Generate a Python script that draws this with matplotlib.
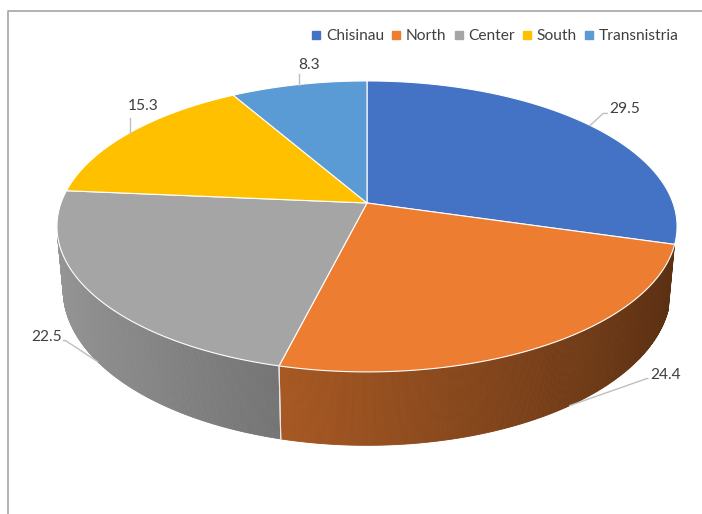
import numpy as np
import matplotlib.pyplot as plt
from matplotlib.patches import Polygon
from matplotlib.lines import Line2D
from matplotlib.colors import to_rgb

plt.rcParams['font.family'] = ['Lato', 'DejaVu Sans']

regions = ['Chisinau', 'North', 'Center', 'South', 'Transnistria']
shares = [29.5, 24.4, 22.5, 15.3, 8.3]
colors = ['#4472C4', '#ED7D31', '#A5A5A5', '#FFC000', '#5B9BD5']

# projection of the tilted disc, in pixels of the 702x514 image
CX, CY = 367, 203      # pie centre on the top face
RX, RY = 306, 141.7
K = 0.161              # perspective strength
DEPTH = 61.6           # thickness of the pie
SHRINK = 0.98          # bottom rim is a little narrower (perspective)
WALL_FROM, WALL_TO = 106.5, 258.0   # visible part of the outer wall, degrees

# label placement (offsets from anchor, pixels), leader elbow, anchor fraction in slice
label_off = [(19, -16), (80, -31), (-36, -25), (-2, -27), (0, -20)]
elbow_off = [(13, -12), (77, -27), (-32, -21), (0, -15), (0, -11)]
anchor_frac = [0.5, 0.43, 0.5, 0.5, 0.5]
anchor_side = ['top', 'bottom', 'bottom', 'top', 'top']
label_ha = ['left', 'left', 'right', 'left', 'left']


def top_pt(theta):
    # theta in degrees, clockwise from 12 o'clock
    t = np.radians(theta)
    u, v = np.sin(t), np.cos(t)
    d = 1 + K * v
    return CX + RX * u / d, CY - RY * v / d


def bottom_pt(theta):
    x, y = top_pt(theta)
    d = 1 + K * np.cos(np.radians(theta))
    return CX + (x - CX) * SHRINK, y + DEPTH / d


def shade(c, theta):
    f = 0.64 - 0.27 * np.sin(np.radians(theta))
    r, g, b = to_rgb(c)
    return (r * f, g * f, b * f)


fig = plt.figure(figsize=(7.02, 5.14), dpi=100)
ax = fig.add_axes([0, 0, 1, 1])
ax.set_xlim(0, 702)
ax.set_ylim(514, 0)
ax.axis('off')

# chart frame
ax.plot([7.5, 7.5, 702], [514, 10.5, 10.5], color='#A6A6A6', lw=1.2)

total = sum(shares)
edges = np.concatenate([[0], np.cumsum(shares)]) / total * 360

# front side walls, drawn as thin shaded strips
for i in range(len(shares)):
    a0 = max(edges[i], WALL_FROM)
    a1 = min(edges[i + 1], WALL_TO)
    if a1 <= a0:
        continue
    ts = np.linspace(a0, a1, int((a1 - a0) * 3) + 2)
    for t0, t1 in zip(ts[:-1], ts[1:]):
        p = [top_pt(t0), top_pt(t1), bottom_pt(t1), bottom_pt(t0)]
        col = shade(colors[i], (t0 + t1) / 2)
        ax.add_patch(Polygon(p, closed=True, fc=col, ec=col, lw=0.6))
    # light seam at slice boundaries on the wall
    for e in (edges[i], edges[i + 1]):
        if WALL_FROM < e < WALL_TO:
            xs, ys = zip(top_pt(e), bottom_pt(e))
            ax.plot(xs, ys, color='#E8E8E8', lw=0.8)

# top face wedges
for i in range(len(shares)):
    ts = np.linspace(edges[i], edges[i + 1], 200)
    pts = [(CX, CY)] + [top_pt(t) for t in ts]
    ax.add_patch(Polygon(pts, closed=True, fc=colors[i], ec='white', lw=0.8))

# data labels with leader lines
for i, val in enumerate(shares):
    t = edges[i] + anchor_frac[i] * (edges[i + 1] - edges[i])
    ax_, ay_ = top_pt(t) if anchor_side[i] == 'top' else bottom_pt(t)
    ex, ey = ax_ + elbow_off[i][0], ay_ + elbow_off[i][1]
    tx, ty = ax_ + label_off[i][0], ay_ + label_off[i][1]
    if label_ha[i] == 'left':
        lx = max(tx - 2, ex)
    else:
        lx = min(tx + 2, ex)
    ax.plot([ax_, ex, lx], [ay_, ey, ey], color='#BFBFBF', lw=1)
    ax.text(tx, ty, f'{val:.1f}', ha=label_ha[i], va='center',
            fontsize=11.2, color='#404040')

handles = [Line2D([], [], marker='s', ls='', color=c, markersize=5.5) for c in colors]
ax.legend(handles, regions, ncol=5, frameon=False, loc='center',
          bbox_to_anchor=(495 / 702, 1 - 36 / 514), handlelength=0.6,
          handletextpad=0.3, columnspacing=0.5, fontsize=11.2,
          labelcolor='#404040', borderaxespad=0)

plt.savefig('out.png', dpi=100)
